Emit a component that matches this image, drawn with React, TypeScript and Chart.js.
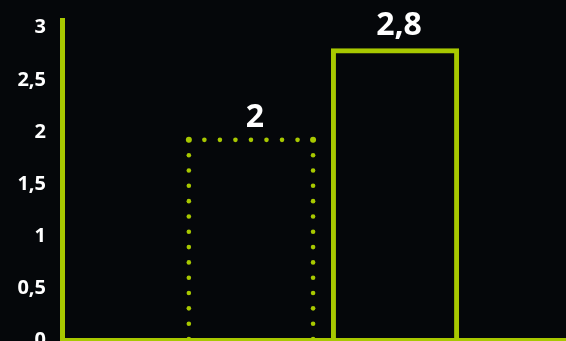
import React, { useEffect, useRef } from "react";
import { Chart, registerables } from "chart.js";

Chart.register(...registerables);

const categories = [""];
const seriesNames = ["Dotted", "Solid"];
const seriesValues = [1.92, 2.8];
const barLabels = ["2", "2,8"];
const yTicks = [0, 0.5, 1, 1.5, 2, 2.5, 3];

const LIME = "#a8c800";
const BG = "#05070a";

const dottedPlugin = {
  id: "dottedBar",
  afterDatasetsDraw(chart: any) {
    const ctx = chart.ctx;
    const meta = chart.getDatasetMeta(0);
    const bar = meta.data[0];
    if (!bar) return;
    const p = bar.getProps(["x", "y", "base", "width"], true);
    const left = p.x - p.width / 2 + 2;
    const right = p.x + p.width / 2 - 2;
    const top = p.y;
    const bottom = p.base - 1;
    const gap = 15.7;
    ctx.save();
    ctx.fillStyle = LIME;
    const dotsAlong = (x1: number, y1: number, x2: number, y2: number) => {
      const len = Math.hypot(x2 - x1, y2 - y1);
      const n = Math.max(1, Math.round(len / gap));
      for (let i = 0; i <= n; i++) {
        const t = i / n;
        ctx.beginPath();
        ctx.arc(x1 + (x2 - x1) * t, y1 + (y2 - y1) * t, 2.3, 0, Math.PI * 2);
        ctx.fill();
      }
    };
    dotsAlong(left, top, left, bottom);
    dotsAlong(left, top, right, top);
    dotsAlong(right, top, right, bottom);
    for (const cx of [left, right]) {
      ctx.beginPath();
      ctx.arc(cx, top, 3, 0, Math.PI * 2);
      ctx.fill();
    }
    ctx.restore();
  },
};

const valueLabelPlugin = {
  id: "valueLabels",
  afterDatasetsDraw(chart: any) {
    const ctx = chart.ctx;
    ctx.save();
    ctx.fillStyle = "#ffffff";
    ctx.font = "bold 32px 'Open Sans'";
    ctx.textAlign = "center";
    ctx.textBaseline = "alphabetic";
    chart.data.datasets.forEach((_: any, i: number) => {
      const bar = chart.getDatasetMeta(i).data[0];
      if (!bar) return;
      const p = bar.getProps(["x", "y"], true);
      ctx.fillText(barLabels[i], p.x + 4, p.y - 13);
    });
    ctx.restore();
  },
};

export default function App() {
  const ref = useRef<HTMLCanvasElement>(null);

  useEffect(() => {
    document.body.style.margin = "0";
    document.body.style.background = BG;
    const canvas = ref.current!;
    const chart = new Chart(canvas, {
      type: "bar",
      data: {
        labels: categories,
        datasets: [
          {
            label: seriesNames[0],
            data: [seriesValues[0]],
            backgroundColor: "transparent",
            borderWidth: 0,
          },
          {
            label: seriesNames[1],
            data: [seriesValues[1]],
            backgroundColor: "transparent",
            borderColor: LIME,
            borderWidth: 5,
            borderSkipped: "start",
          },
        ],
      },
      options: {
        responsive: false,
        maintainAspectRatio: false,
        animation: false,
        categoryPercentage: 0.552,
        barPercentage: 0.89,
        layout: { padding: { top: 20, left: 0, right: 0, bottom: 0 } },
        plugins: {
          legend: { display: false },
          tooltip: { enabled: false },
        },
        scales: {
          x: {
            grid: { display: false, drawTicks: false },
            ticks: { display: false, padding: 0 },
            border: { display: true, color: LIME, width: 5 },
            afterFit: (scale: any) => {
              scale.height = 1;
              scale.paddingLeft = 0;
              scale.paddingRight = 0;
              scale.paddingTop = 0;
              scale.paddingBottom = 0;
            },
          },
          y: {
            min: 0,
            max: 3.07,
            grid: { display: false, drawTicks: false },
            border: { display: true, color: LIME, width: 5 },
            afterBuildTicks: (scale: any) => {
              scale.ticks = yTicks.map((v) => ({ value: v }));
            },
            afterFit: (scale: any) => {
              scale.width = 62;
              scale.paddingTop = 0;
              scale.paddingBottom = 0;
            },
            ticks: {
              color: "#ffffff",
              padding: 16,
              labelOffset: 0.5,
              font: { family: "'Open Sans'", size: 20, weight: "bold" },
              callback: (v: any) => String(v).replace(".", ","),
            },
          },
        },
      },
      plugins: [dottedPlugin, valueLabelPlugin],
    });
    return () => chart.destroy();
  }, []);

  return (
    <div style={{ width: 566, height: 341, overflow: "hidden", background: BG }}>
      <canvas ref={ref} width={584} height={341} style={{ display: "block", width: 584, height: 341 }} />
    </div>
  );
}
